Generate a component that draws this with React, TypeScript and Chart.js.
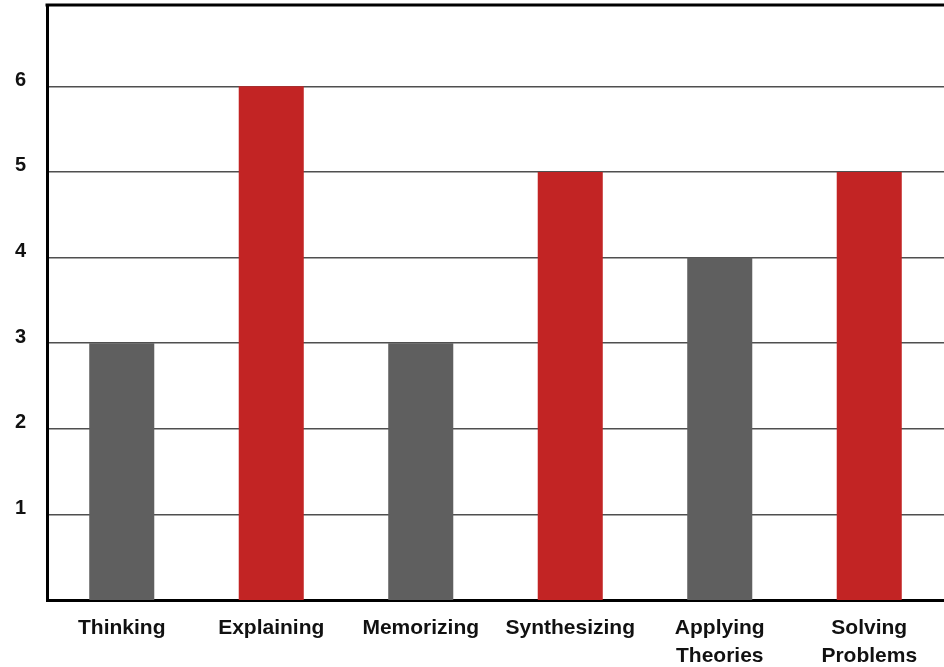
import React, { useEffect, useRef } from "react";
import { Chart, registerables } from "chart.js";

Chart.register(...registerables);

// Skill categories along the x axis
const categories: (string | string[])[] = [
  "Thinking",
  "Explaining",
  "Memorizing",
  "Synthesizing",
  ["Applying", "Theories"],
  ["Solving", "Problems"],
];

// Score for each skill
const scores = [3, 6, 3, 5, 4, 5];

// Y axis tick values
const yTicks = [1, 2, 3, 4, 5, 6];

const GRAY = "#5f5f5f";
const RED = "#c22424";
const barColors = [GRAY, RED, GRAY, RED, GRAY, RED];

const FONT = '"Liberation Sans", Arial, Helvetica, sans-serif';

// Thick frame line along the top of the plot area
const topBorder = {
  id: "topBorder",
  afterDraw(chart: any) {
    const { ctx, chartArea } = chart;
    ctx.save();
    ctx.strokeStyle = "#000";
    ctx.lineWidth = 3;
    ctx.beginPath();
    ctx.moveTo(chartArea.left - 1.5, chartArea.top);
    ctx.lineTo(chartArea.right, chartArea.top);
    ctx.stroke();
    ctx.restore();
  },
};

export default function App() {
  const canvasRef = useRef<HTMLCanvasElement | null>(null);

  useEffect(() => {
    if (!canvasRef.current) return;
    const chart = new Chart(canvasRef.current, {
      type: "bar",
      data: {
        labels: categories,
        datasets: [
          {
            data: scores,
            backgroundColor: barColors,
            borderWidth: 0,
            categoryPercentage: 1,
            barPercentage: 0.435,
          },
        ],
      },
      options: {
        animation: false,
        responsive: false,
        maintainAspectRatio: false,
        layout: { padding: { top: 5, left: 0, right: 0, bottom: 0 } },
        plugins: {
          legend: { display: false },
          tooltip: { enabled: false },
          title: { display: false },
        },
        scales: {
          x: {
            grid: { display: false, drawTicks: false },
            border: { display: true, color: "#000", width: 3 },
            ticks: {
              color: "#111",
              padding: 14,
              maxRotation: 0,
              autoSkip: false,
              font: { family: FONT, size: 21, weight: "bold", lineHeight: 1.35 },
            },
            afterFit(scale: any) {
              scale.height = 67;
            },
          },
          y: {
            min: 0,
            max: 6.95,
            grid: { color: "#4f4f4f", lineWidth: 1.6, drawTicks: false },
            border: { display: true, color: "#000", width: 3 },
            ticks: {
              color: "#111",
              padding: 21,
              labelOffset: -6,
              font: { family: FONT, size: 20, weight: "bold" },
            },
            afterBuildTicks(scale: any) {
              scale.ticks = yTicks.map((v) => ({ value: v }));
            },
            afterFit(scale: any) {
              scale.width = 47;
              scale.paddingTop = 0;
              scale.paddingBottom = 0;
            },
          },
        },
      },
      plugins: [topBorder],
    });
    return () => chart.destroy();
  }, []);

  return (
    <div style={{ position: "fixed", left: 0, top: 0, width: 944, height: 667, background: "#fff" }}>
      <canvas ref={canvasRef} width={944} height={667} style={{ width: 944, height: 667 }} />
    </div>
  );
}
